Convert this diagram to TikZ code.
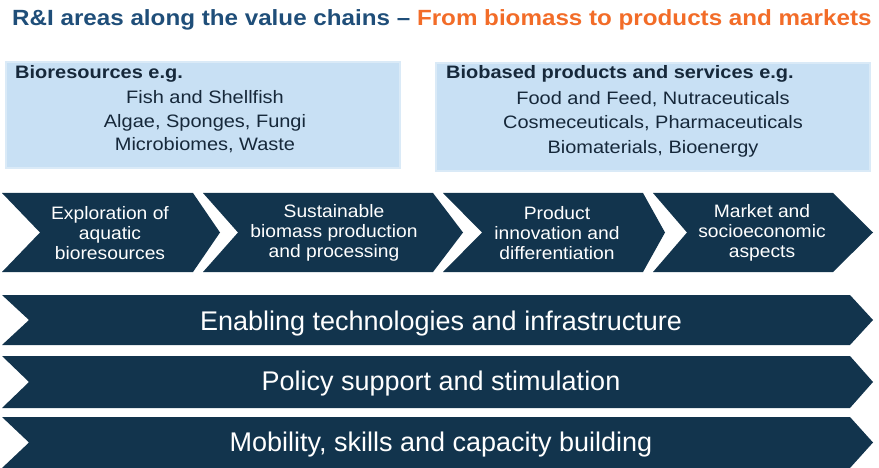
\documentclass[tikz,border=0pt]{standalone}
\usepackage{fontspec}
\setmainfont{Liberation Sans}
\newfontfamily\titlefont[FakeStretch=1.1]{Liberation Sans}
\newfontfamily\boxfont[FakeStretch=1.11]{Liberation Sans}
\newfontfamily\stagefont[FakeStretch=1.07]{Liberation Sans}
\definecolor{navy}{RGB}{18,52,77}
\definecolor{titleblue}{RGB}{31,78,121}
\definecolor{titleorange}{RGB}{242,108,40}
\definecolor{boxblue}{RGB}{200,224,244}
\definecolor{boxedge}{RGB}{218,234,247}
\definecolor{boxtext}{RGB}{22,40,58}

\begin{document}
\begin{tikzpicture}[x=1pt,y=-1pt,inner sep=0pt]
\tikzstyle{box}=[fill=boxblue,draw=boxedge,line width=2pt,anchor=north west]
\tikzstyle{head}=[anchor=base west,text=boxtext,font=\boxfont\fontsize{18}{20}\selectfont\bfseries]
\tikzstyle{items}=[align=center,text=boxtext,font=\boxfont\fontsize{18}{23.5}\selectfont]
\tikzstyle{stage}=[align=center,text=white,font=\stagefont\fontsize{18}{20}\selectfont]
\tikzstyle{layer}=[anchor=base,text=white,font=\fontsize{27}{30}\selectfont]
\useasboundingbox (0,0) rectangle (879,468);

% title
\node[anchor=base west,font=\titlefont\fontsize{22}{24}\selectfont\bfseries] (title) at (12,26)
  {\textcolor{titleblue}{R\&I areas along the value chains \textendash} \textcolor{titleorange}{From biomass to products and markets}};

% bioresources and products
\node[box,minimum width=394pt,minimum height=106pt] (res) at (5,61) {};
\node[head] (reshead) at (15,79) {Bioresources e.g.};
\node[items] (reslist) at (205,122) {Fish and Shellfish\\Algae, Sponges, Fungi\\Microbiomes, Waste};
\node[box,minimum width=434pt,minimum height=108pt] (prod) at (435,62) {};
\node[head] (prodhead) at (446,79) {Biobased products and services e.g.};
\node[items,font=\boxfont\fontsize{18}{24.5}\selectfont] (prodlist) at (653,124) {Food and Feed, Nutraceuticals\\Cosmeceuticals, Pharmaceuticals\\Biomaterials, Bioenergy};

% value chain
\foreach \l/\r/\n/\t in {2/193/38/27, 203/433/35/30, 443/643/39/22, 653/833/34/40}
  \fill[navy] (\l,193) -- (\r,193) -- ++(\t,39.5) -- (\r,272) -- (\l,272) -- ++(\n,-39.5) -- cycle;
\node[stage] (explore) at (110,233) {Exploration of\\aquatic\\bioresources};
\node[stage] (biomass) at (334,233) {Sustainable\\biomass production\\and processing};
\node[stage] (innov) at (557,233) {Product\\innovation and\\differentiation};
\node[stage] (market) at (762,233) {Market and\\socioeconomic\\aspects};

% cross-cutting layers
\foreach \t/\b in {295/345, 356/408, 417/468}
  \fill[navy] (2,\t) -- (850,\t) -- (873,{(\t+\b)/2}) -- (850,\b) -- (2,\b) -- (29,{(\t+\b)/2}) -- cycle;
\node[layer] (enabling) at (441,330) {Enabling technologies and infrastructure};
\node[layer] (policy) at (441,390) {Policy support and stimulation};
\node[layer] (mobility) at (441,451) {Mobility, skills and capacity building};
\end{tikzpicture}
\end{document}
